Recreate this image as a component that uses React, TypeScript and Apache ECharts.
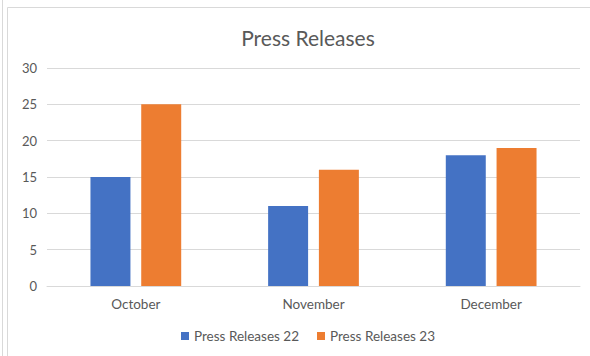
import React, { useEffect, useRef } from "react";
import * as echarts from "echarts";

const months = ["October", "November", "December"];
const releases22 = [15, 11, 18];
const releases23 = [25, 16, 19];
const seriesNames = ["Press Releases 22", "Press Releases 23"];

const FONT = "Lato, 'Open Sans', sans-serif";
const TEXT = "#595959";
const RULE = "#d9d9d9";

export default function App() {
  const ref = useRef<HTMLDivElement>(null);

  useEffect(() => {
    if (!ref.current) return;
    const chart = echarts.init(ref.current, undefined, { renderer: "svg" });
    chart.setOption({
      animation: false,
      backgroundColor: "#ffffff",
      textStyle: { fontFamily: FONT },
      title: {
        text: "Press Releases",
        left: 303,
        textAlign: "center",
        top: 22,
        textStyle: { fontFamily: FONT, fontSize: 21, fontWeight: "normal", color: TEXT },
      },
      graphic: [
        { type: "line", shape: { x1: 2.5, y1: 0, x2: 2.5, y2: 356 }, style: { stroke: RULE, lineWidth: 1 } },
        { type: "line", shape: { x1: 7.5, y1: 7.5, x2: 7.5, y2: 356 }, style: { stroke: RULE, lineWidth: 1 } },
        { type: "line", shape: { x1: 7.5, y1: 7.5, x2: 590, y2: 7.5 }, style: { stroke: RULE, lineWidth: 1 } },
      ],
      legend: {
        bottom: 8,
        left: 176,
        itemWidth: 8,
        itemHeight: 8,
        itemGap: 18,
        icon: "rect",
        textStyle: { fontFamily: FONT, fontSize: 13.5, color: TEXT },
        data: seriesNames,
      },
      grid: { left: 47, right: 10, top: 68, bottom: 70 },
      xAxis: {
        type: "category",
        data: months,
        axisTick: { show: false },
        axisLine: { lineStyle: { color: RULE, width: 1 } },
        axisLabel: { color: TEXT, fontSize: 13.5, margin: 11, fontFamily: FONT },
      },
      yAxis: {
        type: "value",
        min: 0,
        max: 30,
        interval: 5,
        axisLine: { show: false },
        axisTick: { show: false },
        splitLine: { lineStyle: { color: RULE, width: 1 } },
        axisLabel: { color: TEXT, fontSize: 13, margin: 10, fontFamily: FONT },
      },
      series: [
        {
          name: seriesNames[0],
          type: "bar",
          data: releases22,
          barWidth: "22.5%",
          barGap: "27%",
          itemStyle: { color: "#4472c4" },
        },
        {
          name: seriesNames[1],
          type: "bar",
          data: releases23,
          barWidth: "22.5%",
          itemStyle: { color: "#ed7d31" },
        },
      ],
    });
    return () => chart.dispose();
  }, []);

  return (
    <div
      ref={ref}
      style={{ position: "absolute", left: 0, top: 0, width: 590, height: 356 }}
    />
  );
}
